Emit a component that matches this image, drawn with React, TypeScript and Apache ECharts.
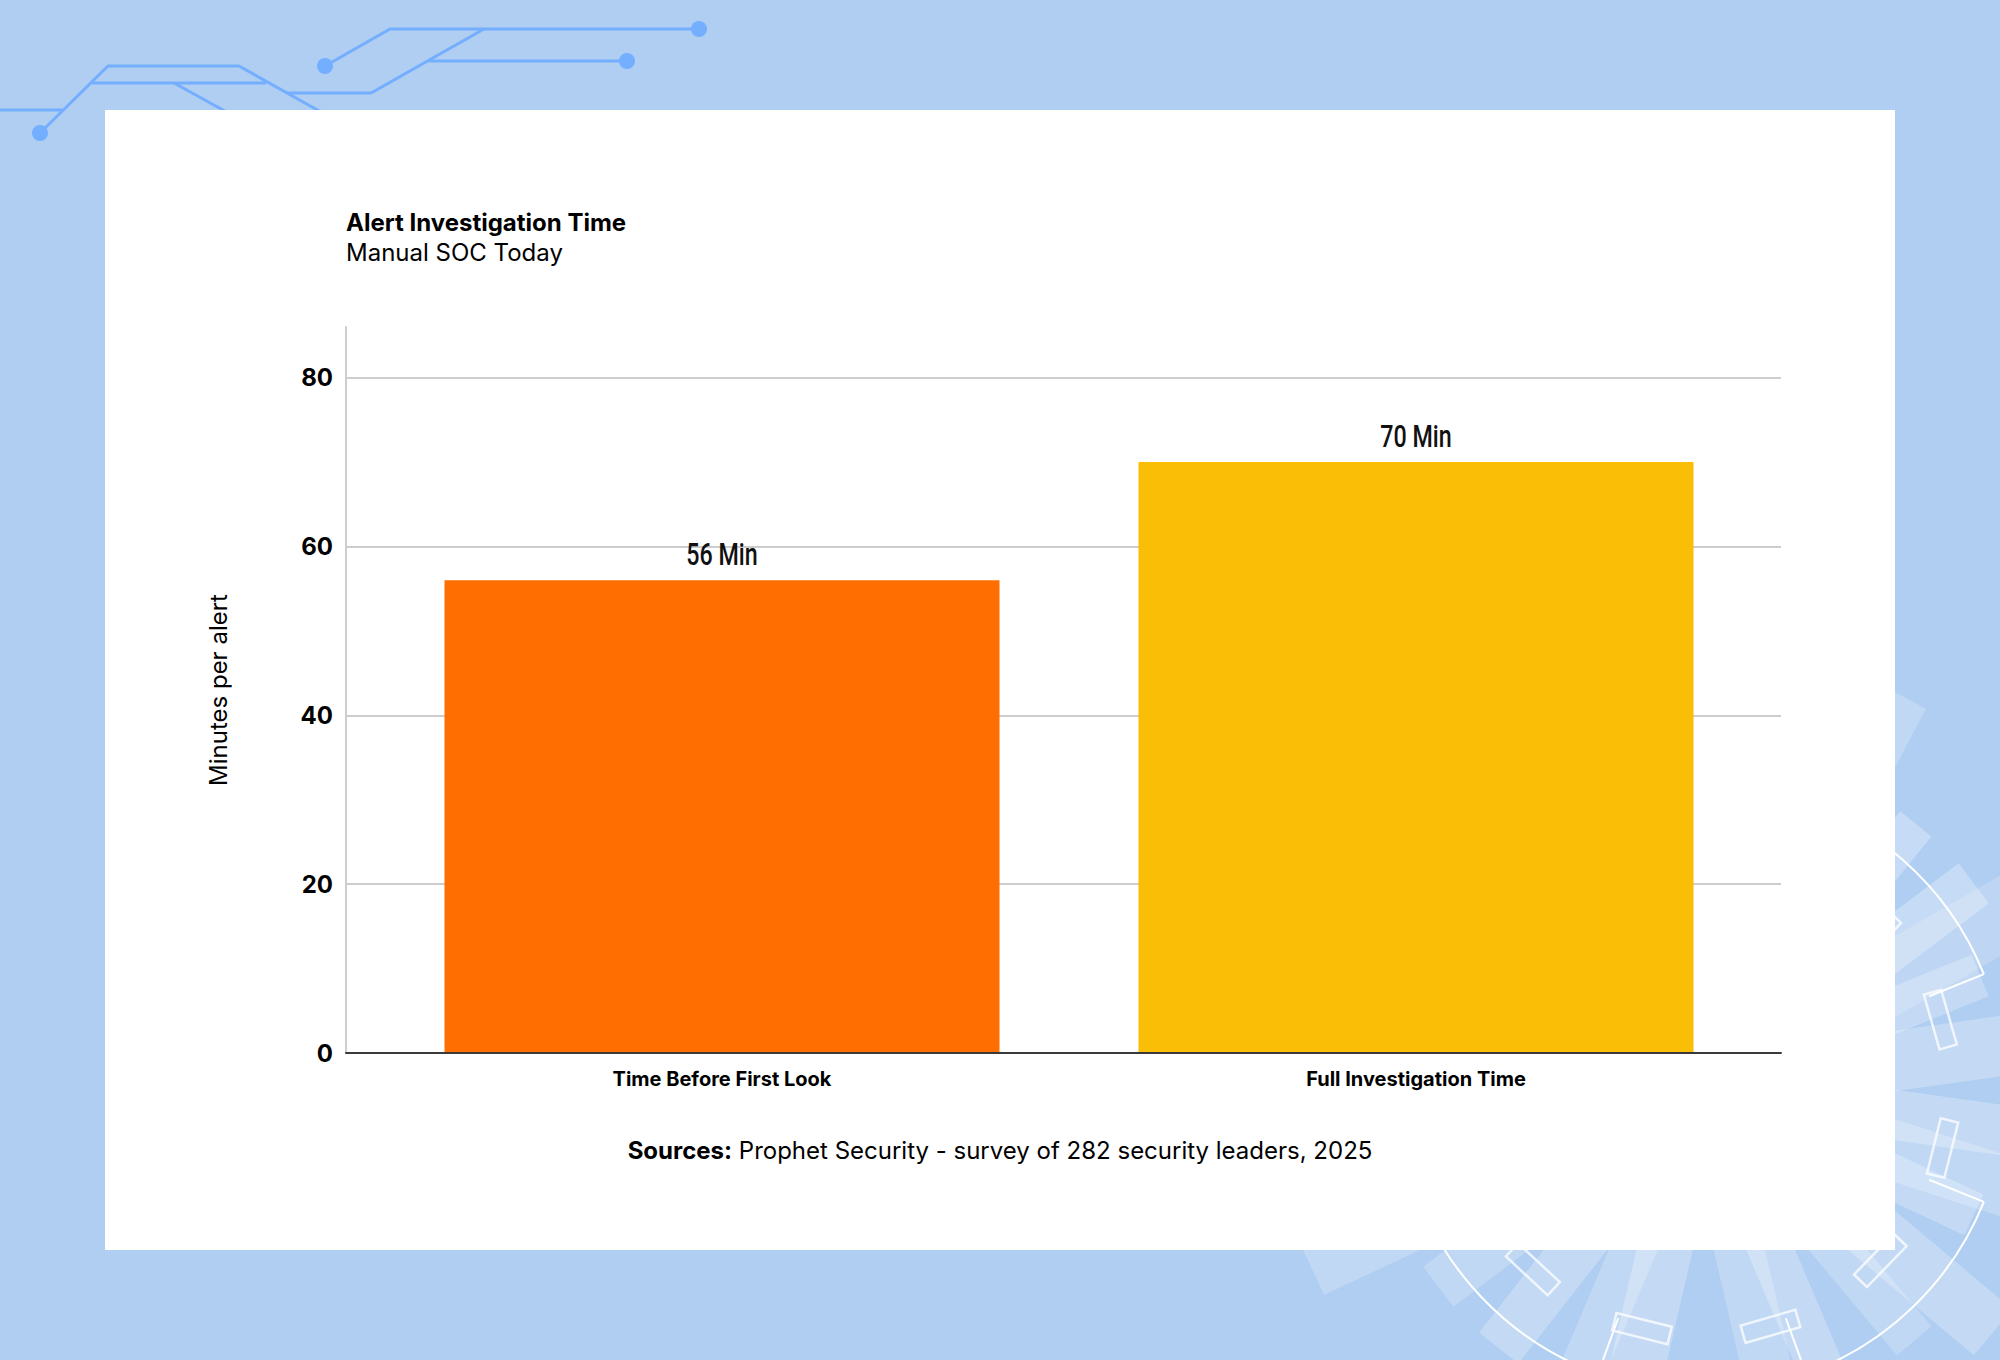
import { useEffect, useRef } from 'react';
import * as echarts from 'echarts';

// chart data
const categories = ['Time Before First Look', 'Full Investigation Time'];
const minutes = [56, 70];
const barColors = ['#FF6E00', '#F9BE05'];
const valueSuffix = ' Min';
const yMax = 86;
const yStep = 20;

const titleText = 'Alert Investigation Time';
const subtitleText = 'Manual SOC Today';
const yAxisName = 'Minutes per alert';
const sourceText = 'Prophet Security - survey of 282 security leaders, 2025';

// background decoration (circuit top-left, wheel bottom-right)
const circuitPaths = [
  [[0, 110], [62, 110]],
  [[40, 133], [108, 66], [239, 66], [330, 117]],
  [[92, 83], [266, 83]],
  [[174, 83], [232, 115]],
  [[287, 93], [371, 93], [484, 29]],
  [[325, 66], [390, 29], [699, 29]],
  [[428, 61], [627, 61]],
];
const circuitDots = [[40, 133], [325, 66], [699, 29], [627, 61]];

const wheelCenter = [1702, 1088];
const wheelRadius = 304;
// [angle deg (clockwise), outer radius, width, opacity]
const spokes = [
  [-62, 440, 40, 0.22], [-51, 340, 40, 0.28], [-37, 340, 50, 0.28], [-30, 420, 70, 0.18],
  [-22, 300, 45, 0.25], [-8, 420, 60, 0.25], [8, 420, 50, 0.25], [18, 420, 60, 0.22],
  [25, 300, 45, 0.25], [40, 380, 60, 0.25], [50, 330, 45, 0.22], [67, 330, 45, 0.25],
  [77, 360, 50, 0.22], [103, 360, 55, 0.25], [113, 340, 45, 0.22], [128, 330, 50, 0.25],
  [143, 330, 50, 0.22], [155, 430, 55, 0.22],
];
const hollowAngles = [-46, -16, 14, 44, 74, 104, 133, 164];
const radialAngles = [-22, 22, 70, 110];
const arcRanges = [[22, 70], [110, 338]];

const rad = (d: number) => (d * Math.PI) / 180;

const buildGraphics = () => {
  const [cx, cy] = wheelCenter;
  const els: any[] = [];
  spokes.forEach(([a, r1, w, op]) => {
    els.push({
      type: 'rect', x: cx, y: cy, rotation: -rad(a), silent: true, z: -5,
      shape: { x: 150, y: -w / 2, width: r1 - 150, height: w },
      style: { fill: `rgba(255,255,255,${op})` },
    });
  });
  hollowAngles.forEach((a) => {
    els.push({
      type: 'rect', x: cx, y: cy, rotation: -rad(a), silent: true, z: -4,
      shape: { x: 239, y: -28.5, width: 18, height: 57 },
      style: { fill: 'none', stroke: 'rgba(255,255,255,0.75)', lineWidth: 2.5 },
    });
  });
  radialAngles.forEach((a) => {
    els.push({
      type: 'line', silent: true, z: -4,
      shape: {
        x1: cx + 245 * Math.cos(rad(a)), y1: cy + 245 * Math.sin(rad(a)),
        x2: cx + wheelRadius * Math.cos(rad(a)), y2: cy + wheelRadius * Math.sin(rad(a)),
      },
      style: { stroke: '#ffffff', lineWidth: 2 },
    });
  });
  arcRanges.forEach(([s, e]) => {
    els.push({
      type: 'arc', silent: true, z: -4,
      shape: { cx, cy, r: wheelRadius, startAngle: rad(s), endAngle: rad(e), clockwise: true },
      style: { stroke: '#ffffff', lineWidth: 2, fill: 'none' },
    });
  });
  circuitPaths.forEach((pts) => {
    els.push({
      type: 'polyline', silent: true, z: -3,
      shape: { points: pts },
      style: { stroke: '#74AEFF', lineWidth: 3, fill: 'none' },
    });
  });
  circuitDots.forEach(([x, y]) => {
    els.push({
      type: 'circle', silent: true, z: -3,
      shape: { cx: x, cy: y, r: 8 },
      style: { fill: '#74AEFF' },
    });
  });
  // white card
  els.push({
    type: 'rect', silent: true, z: -1,
    shape: { x: 105, y: 110, width: 1790, height: 1140 },
    style: { fill: '#ffffff' },
  });
  return els;
};

const App = () => {
  const chartRef = useRef<HTMLDivElement>(null);

  useEffect(() => {
    if (!chartRef.current) return;
    const chart = echarts.init(chartRef.current, null, { renderer: 'svg' });

    const font = 'Inter, "Noto Sans", sans-serif';

    const options: echarts.EChartsOption = {
      animation: false,
      backgroundColor: '#B0CEF1',
      textStyle: { fontFamily: font },
      graphic: buildGraphics(),
      title: [
        {
          text: titleText,
          subtext: subtitleText,
          left: 346,
          top: 210,
          padding: 0,
          itemGap: 6,
          textStyle: { fontFamily: font, fontSize: 24, fontWeight: 700, color: '#000', lineHeight: 24 },
          subtextStyle: { fontFamily: font, fontSize: 24, fontWeight: 400, color: '#000', lineHeight: 24 },
        },
        {
          text: '{b|Sources:} ' + sourceText,
          left: 'center',
          top: 1138,
          padding: 0,
          textStyle: {
            fontFamily: font, fontSize: 24, fontWeight: 400, color: '#000', lineHeight: 24,
            rich: { b: { fontFamily: font, fontSize: 24, fontWeight: 700, color: '#000', lineHeight: 24 } },
          },
        },
      ],
      grid: [
        { left: 346, right: 219, top: 327, bottom: 307 },
        { left: 375, right: 237, top: 327, bottom: 307 },
      ],
      xAxis: [
        {
          type: 'value', gridIndex: 0, min: 0, max: 1, z: 3,
          axisLine: { show: true, lineStyle: { color: '#3A3A3A', width: 2 } },
          axisTick: { show: false },
          axisLabel: { show: false },
          splitLine: { show: false },
        },
        {
          type: 'category', gridIndex: 1, data: categories,
          axisLine: { show: false },
          axisTick: { show: false },
          axisLabel: { margin: 16, fontFamily: font, fontSize: 20, fontWeight: 700, color: '#000' },
        },
      ],
      yAxis: [
        {
          type: 'value', gridIndex: 0, min: 0, max: yMax, interval: yStep,
          name: yAxisName,
          nameLocation: 'middle',
          nameGap: 116,
          nameTextStyle: { fontFamily: font, fontSize: 24, color: '#000' },
          axisLine: { show: true, lineStyle: { color: '#CDCDCD', width: 2 } },
          axisTick: { show: false },
          axisLabel: { margin: 13, showMaxLabel: false, fontFamily: font, fontSize: 24, fontWeight: 700, color: '#000' },
          splitLine: { show: true, showMinLine: false, showMaxLine: false, lineStyle: { color: '#CDCDCD', width: 2 } },
        },
        { type: 'value', gridIndex: 1, min: 0, max: yMax, show: false },
      ],
      series: [
        {
          type: 'bar',
          xAxisIndex: 1,
          yAxisIndex: 1,
          barWidth: 555,
          data: minutes.map((v, i) => ({ value: v, itemStyle: { color: barColors[i] } })),
        },
        {
          // value labels, narrowed to look like the condensed face in the original
          type: 'custom',
          xAxisIndex: 1,
          yAxisIndex: 1,
          silent: true,
          z: 4,
          data: minutes.map((v, i) => [i, v]),
          renderItem: (params: any, api: any) => {
            const p = api.coord([api.value(0), api.value(1)]);
            return {
              type: 'text',
              x: p[0],
              y: p[1] - 25,
              scaleX: 0.75,
              style: {
                text: api.value(1) + valueSuffix,
                fill: '#111',
                font: '500 31px Roboto, "Noto Sans", sans-serif',
                textAlign: 'center',
                textVerticalAlign: 'middle',
              },
            };
          },
        },
      ],
    };

    chart.setOption(options);

    return () => {
      chart.dispose();
    };
  }, []);

  return (
    <div
      ref={chartRef}
      style={{ position: 'absolute', left: 0, top: 0, width: '2000px', height: '1360px' }}
    />
  );
};

export default App;
